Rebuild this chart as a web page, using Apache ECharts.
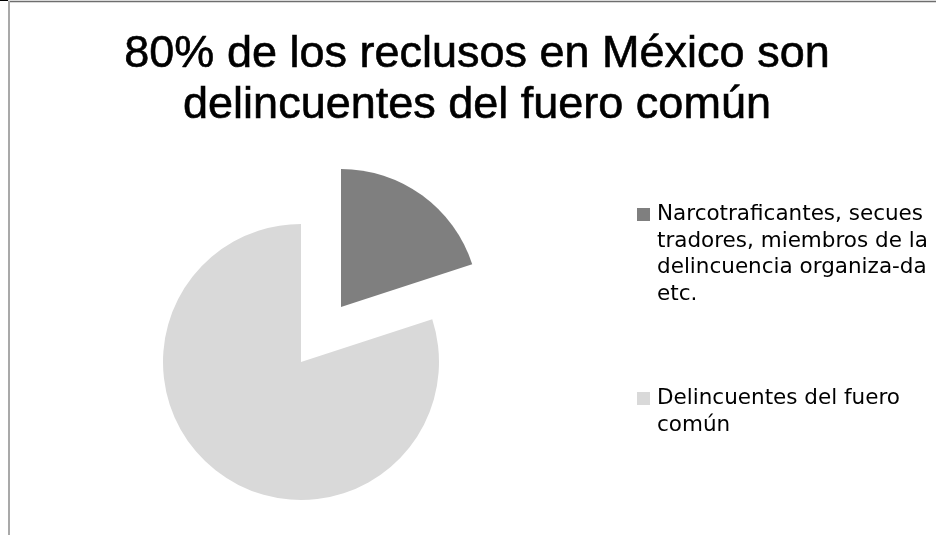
<!DOCTYPE html>
<html>
<head>
<meta charset="utf-8">
<script src="https://cdn.jsdelivr.net/npm/echarts@6/dist/echarts.min.js"></script>
<style>
  html, body { margin: 0; padding: 0; background: #fff; }
  #chart { width: 936px; height: 535px; }
</style>
</head>
<body>
<div id="chart"></div>
<script>
// Share of inmates by type of offence
const categories = [
  'Narcotraficantes, secuestradores, miembros de la delincuencia organiza-da etc.',
  'Delincuentes del fuero común'
];
const values = [20, 80];
const sliceColors = ['#7f7f7f', '#d9d9d9'];

// Legend text, one entry per category, already broken into lines
const legendLines = [
  ['Narcotraficantes, secues', 'tradores, miembros de la', 'delincuencia organiza-da', 'etc.'],
  ['Delincuentes del fuero', 'común']
];

const titleLines = ['80% de los reclusos en México son', 'delincuentes del fuero común'];

const LEGEND_LH = 26.5;
const LEGEND_ICON = 13;

function legendFor(idx, iconTop) {
  const n = legendLines[idx].length;
  // legend text is centred on its icon; leading blank lines put the first line beside it
  const total = 2 * n - 1;
  const blockTop = LEGEND_ICON / 2 - (total * LEGEND_LH) / 2;
  const text = '\n'.repeat(n - 1) + legendLines[idx].join('\n');
  return {
    orient: 'vertical',
    left: 637,
    top: iconTop + blockTop,
    padding: 0,
    itemWidth: LEGEND_ICON,
    itemHeight: LEGEND_ICON,
    itemGap: 0,
    icon: 'rect',
    selectedMode: false,
    data: [categories[idx]],
    formatter: () => text,
    textStyle: {
      fontFamily: 'DejaVu Sans',
      fontSize: 21.5,
      lineHeight: LEGEND_LH,
      color: '#000',
      padding: [0, 0, 0, 2]
    }
  };
}

const chart = echarts.init(document.getElementById('chart'), null, { renderer: 'canvas' });

chart.setOption({
  animation: false,
  backgroundColor: '#fff',
  title: {
    text: titleLines.join('\n'),
    left: 477,
    top: 29,
    textAlign: 'center',
    padding: 0,
    textStyle: {
      fontFamily: 'Liberation Sans',
      fontSize: 45,
      fontWeight: 'normal',
      lineHeight: 51,
      color: '#000',
      textBorderColor: '#000',
      textBorderWidth: 0.6
    }
  },
  legend: [legendFor(0, 208), legendFor(1, 392)],
  graphic: [
    { type: 'rect', shape: { x: 0, y: 0, width: 8, height: 1 }, style: { fill: '#000' }, silent: true },
    { type: 'line', shape: { x1: 8, y1: 1.5, x2: 936, y2: 1.5 }, style: { stroke: '#6e6e6e', lineWidth: 1.5 }, silent: true },
    { type: 'line', shape: { x1: 9, y1: 1, x2: 9, y2: 535 }, style: { stroke: '#a9a9a9', lineWidth: 2 }, silent: true }
  ],
  series: [{
    type: 'pie',
    center: [301, 362],
    radius: 138,
    startAngle: 90,
    clockwise: true,
    selectedMode: 'single',
    selectedOffset: 68,
    avoidLabelOverlap: false,
    label: { show: false },
    labelLine: { show: false },
    emphasis: { disabled: true },
    itemStyle: { borderWidth: 0 },
    data: categories.map((name, i) => ({
      name,
      value: values[i],
      selected: i === 0,
      itemStyle: { color: sliceColors[i], borderWidth: 0 },
      select: { itemStyle: { color: sliceColors[i], borderWidth: 0 } }
    }))
  }]
});
</script>
</body>
</html>
